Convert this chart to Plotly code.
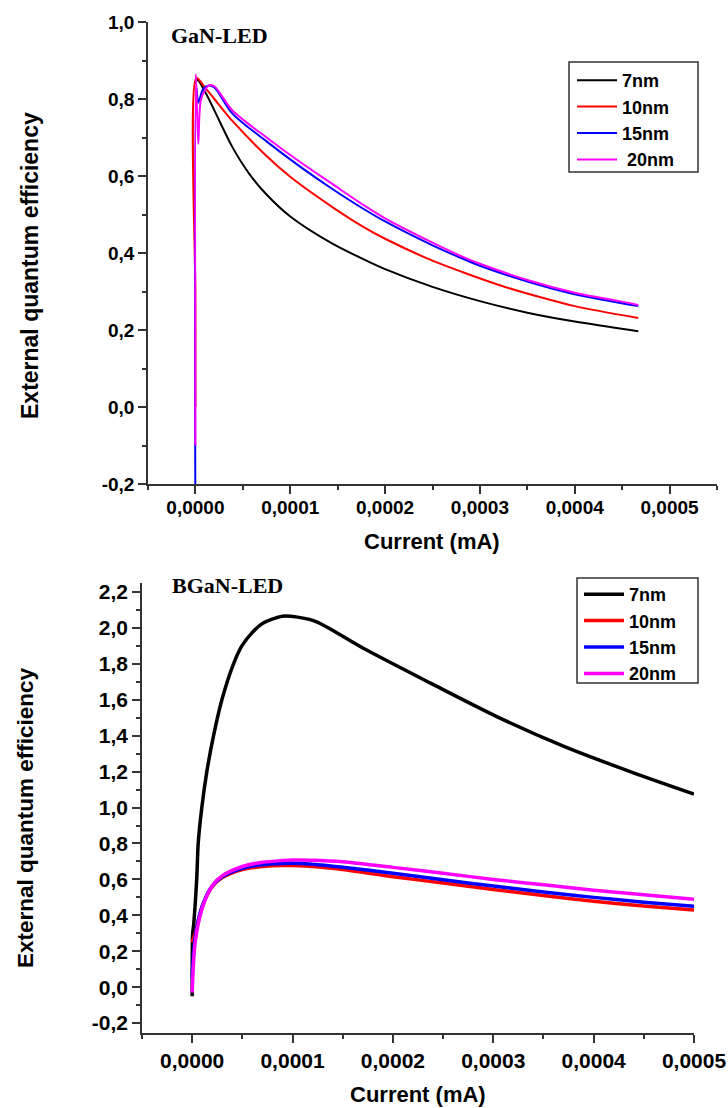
import plotly.graph_objects as go

# ---------------- data: GaN-LED (top) ----------------
gan_labels = ["7nm", "10nm", "15nm", " 20nm"]
gan_x_7 = [0, 0.000002, 0.000011, 0.000022, 0.000039, 0.000057, 0.000075, 0.0001, 0.000144,
           0.000177, 0.0002, 0.00025, 0.0003, 0.00035, 0.0004, 0.000467]
gan_y_7 = [0.84, 0.85, 0.815, 0.76, 0.675, 0.605, 0.552, 0.495, 0.425,
           0.384, 0.358, 0.312, 0.275, 0.245, 0.222, 0.197]
gan_x_10 = [0, 0, 0.000001, 0.00001, 0.00002, 0.000039, 0.000075, 0.0001, 0.000144,
            0.000177, 0.0002, 0.00025, 0.000282, 0.000325, 0.000364, 0.0004, 0.000467]
gan_y_10 = [0.0, 0.28, 0.855, 0.83, 0.80, 0.743, 0.652, 0.598, 0.52,
            0.468, 0.437, 0.38, 0.35, 0.313, 0.285, 0.262, 0.231]
gan_x_15 = [0, 0.000001, 0.000003, 0.000008, 0.000014, 0.00002, 0.000039, 0.000075, 0.00011, 0.000144,
            0.000177, 0.0002, 0.00025, 0.000282, 0.0003, 0.00035, 0.0004, 0.000467]
gan_y_15 = [-0.3, 0.83, 0.79, 0.825, 0.835, 0.83, 0.762, 0.69, 0.625, 0.567,
            0.515, 0.482, 0.42, 0.385, 0.367, 0.326, 0.293, 0.262]
gan_x_20 = [0, 0.0000005, 0.000003, 0.000006, 0.000014, 0.00002, 0.000039, 0.000075, 0.00011, 0.000144,
            0.000177, 0.0002, 0.00025, 0.000282, 0.0003, 0.00035, 0.0004, 0.000447, 0.000467]
gan_y_20 = [-0.1, 0.865, 0.683, 0.80, 0.835, 0.833, 0.77, 0.70, 0.637, 0.58,
            0.525, 0.49, 0.427, 0.39, 0.372, 0.33, 0.297, 0.275, 0.265]

# ---------------- data: BGaN-LED (bottom) ----------------
bgan_labels = ["7nm", "10nm", "15nm", "20nm"]
bgan_x_7 = [0, 0.0000005, 0.0000015, 0.0000045, 0.000006, 0.0000096, 0.0000146, 0.0000213, 0.0000296,
            0.0000412, 0.0000495, 0.00006, 0.00007, 0.00009, 0.000105, 0.000124, 0.000171, 0.000238,
            0.000304, 0.000371, 0.000437, 0.0005]
bgan_y_7 = [-0.05, 0.3, 0.35, 0.6, 0.8, 1.0, 1.2, 1.4, 1.6,
            1.8, 1.9, 1.975, 2.025, 2.065, 2.06, 2.034, 1.885, 1.691,
            1.505, 1.339, 1.199, 1.075]
bgan_x = [0, 0.000003, 0.00001, 0.00002, 0.00003, 0.00005, 0.00007, 0.00009, 0.0001, 0.00012,
          0.00015, 0.0002, 0.00025, 0.0003, 0.00035, 0.0004, 0.00045, 0.0005]
bgan_y_10 = [0.25, 0.3, 0.45, 0.56, 0.61, 0.655, 0.672, 0.678, 0.677, 0.672,
             0.655, 0.615, 0.58, 0.544, 0.51, 0.478, 0.452, 0.43]
bgan_y_15 = [0.05, 0.28, 0.45, 0.565, 0.615, 0.662, 0.682, 0.689, 0.69, 0.685,
             0.668, 0.634, 0.598, 0.563, 0.53, 0.5, 0.473, 0.45]
bgan_y_20 = [-0.03, 0.25, 0.44, 0.565, 0.62, 0.672, 0.695, 0.705, 0.708, 0.707,
             0.698, 0.667, 0.634, 0.60, 0.57, 0.54, 0.515, 0.49]

colors = ["#000000", "#ff0000", "#0000ff", "#ff00ff"]

x_ticks = [0, 0.0001, 0.0002, 0.0003, 0.0004, 0.0005]
x_ticktext = ["0,0000", "0,0001", "0,0002", "0,0003", "0,0004", "0,0005"]
y1_ticks = [-0.2, 0.0, 0.2, 0.4, 0.6, 0.8, 1.0]
y1_ticktext = ["-0,2", "0,0", "0,2", "0,4", "0,6", "0,8", "1,0"]
y2_ticks = [-0.2, 0.0, 0.2, 0.4, 0.6, 0.8, 1.0, 1.2, 1.4, 1.6, 1.8, 2.0, 2.2]
y2_ticktext = ["-0,2", "0,0", "0,2", "0,4", "0,6", "0,8", "1,0", "1,2", "1,4", "1,6", "1,8", "2,0", "2,2"]

FONT = "Liberation Sans, Arial, sans-serif"
SERIF = "Liberation Serif, Times New Roman, serif"

fig = go.Figure()

top_sets = [(gan_x_7, gan_y_7), (gan_x_10, gan_y_10), (gan_x_15, gan_y_15), (gan_x_20, gan_y_20)]
for i, (xs, ys) in enumerate(top_sets):
    fig.add_trace(go.Scatter(x=xs, y=ys, mode="lines", name=gan_labels[i],
                             line=dict(color=colors[i], width=2, shape="spline", smoothing=0.8),
                             xaxis="x", yaxis="y", legend="legend"))

bot_sets = [(bgan_x_7, bgan_y_7), (bgan_x, bgan_y_10), (bgan_x, bgan_y_15), (bgan_x, bgan_y_20)]
for i, (xs, ys) in enumerate(bot_sets):
    fig.add_trace(go.Scatter(x=xs, y=ys, mode="lines", name=bgan_labels[i],
                             line=dict(color=colors[i], width=3.5, shape="spline", smoothing=0.8),
                             xaxis="x2", yaxis="y2", legend="legend2"))

W, H = 728, 1108
def px(v):
    return v / W
def py(v):
    return 1 - v / H

axis_common = dict(showline=True, linecolor="#333333", linewidth=1.5, ticks="outside",
                   tickcolor="#333333", tickwidth=1.5, showgrid=False, zeroline=False,
                   mirror=False, automargin=False)

fig.update_layout(
    width=W, height=H,
    margin=dict(l=0, r=0, t=0, b=0, pad=0, autoexpand=False),
    paper_bgcolor="white", plot_bgcolor="white",
    xaxis=dict(domain=[px(148), px(717)], range=[-0.00005, 0.00055], anchor="y",
               tickvals=x_ticks, ticktext=x_ticktext, ticklen=8, ticklabelstandoff=-3,
               minor=dict(dtick=0.00005, tick0=0, ticklen=4, ticks="outside", tickcolor="#333333"),
               tickfont=dict(family=FONT, size=19, color="black", weight="bold"),
               **axis_common),
    yaxis=dict(domain=[py(484), py(22)], range=[-0.2, 1.0], anchor="x",
               tickvals=y1_ticks, ticktext=y1_ticktext, ticklen=8,
               minor=dict(dtick=0.1, tick0=0, ticklen=4, ticks="outside", tickcolor="#333333"),
               tickfont=dict(family=FONT, size=19, color="black", weight="bold"),
               **axis_common),
    xaxis2=dict(domain=[px(142), px(694)], range=[-0.00005, 0.0005], anchor="y2",
                tickvals=x_ticks, ticktext=x_ticktext, ticklen=8,
                minor=dict(dtick=0.00005, tick0=0, ticklen=4, ticks="outside", tickcolor="#333333"),
                tickfont=dict(family=FONT, size=21, color="black", weight="bold"),
                **axis_common),
    yaxis2=dict(domain=[py(1033), py(583)], range=[-0.255, 2.25], anchor="x2",
                tickvals=y2_ticks, ticktext=y2_ticktext, ticklen=8,
                minor=dict(dtick=0.1, tick0=0, ticklen=4, ticks="outside", tickcolor="#333333"),
                tickfont=dict(family=FONT, size=21, color="black", weight="bold"),
                **axis_common),
    legend=dict(x=px(572), y=py(62), xanchor="left", yanchor="top",
                borderwidth=0, bgcolor="rgba(0,0,0,0)",
                font=dict(family=FONT, size=18, color="black", weight="bold"),
                tracegroupgap=0, itemwidth=40),
    legend2=dict(x=px(579), y=py(576), xanchor="left", yanchor="top",
                 borderwidth=0, bgcolor="rgba(0,0,0,0)",
                 font=dict(family=FONT, size=18, color="black", weight="bold"),
                 tracegroupgap=0, itemwidth=40),
    showlegend=True,
)

# legend frames
legend_boxes = [(569, 62, 698, 172), (577, 578, 698, 683)]
for (bx0, by0, bx1, by1) in legend_boxes:
    fig.add_shape(type="rect", xref="paper", yref="paper",
                  x0=px(bx0), x1=px(bx1), y0=py(by1), y1=py(by0),
                  line=dict(color="#333333", width=1.5), fillcolor="rgba(0,0,0,0)", layer="above")

annotations = [
    dict(text="GaN-LED", x=px(219), y=py(35), font=dict(family=SERIF, size=22, color="black", weight="bold")),
    dict(text="BGaN-LED", x=px(227), y=py(585), font=dict(family=SERIF, size=22, color="black", weight="bold")),
    dict(text="External quantum efficiency", x=px(30), y=py(266), textangle=-90,
         font=dict(family=FONT, size=23, color="black", weight="bold")),
    dict(text="External quantum efficiency", x=px(25), y=py(818), textangle=-90,
         font=dict(family=FONT, size=22.5, color="black", weight="bold")),
    dict(text="Current (mA)", x=px(432), y=py(541),
         font=dict(family=FONT, size=22, color="black", weight="bold")),
    dict(text="Current (mA)", x=px(418), y=py(1094),
         font=dict(family=FONT, size=22, color="black", weight="bold")),
]
for a in annotations:
    a.update(xref="paper", yref="paper", showarrow=False, xanchor="center", yanchor="middle")
fig.update_layout(annotations=annotations)

fig.write_html("out.html", config={"displayModeBar": False},
               post_script="document.body.style.margin='0px';")
